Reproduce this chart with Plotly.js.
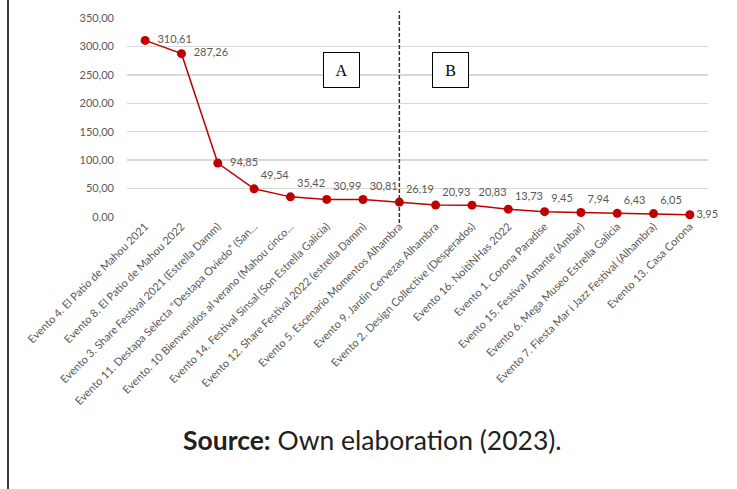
<!DOCTYPE html>
<html>
<head>
<meta charset="utf-8">
<script src="https://cdn.plot.ly/plotly-3.0.1.min.js"></script>
<style>
  html, body { margin: 0; padding: 0; background: #fff; }
  #wrap { position: relative; width: 737px; height: 489px; }
  #chart { width: 737px; height: 489px; }
  #frame { position: absolute; left: 7px; top: 0; width: 2px; height: 489px; background: #3a3a3a; }
</style>
</head>
<body>
<div id="wrap">
  <div id="chart"></div>
  <div id="frame"></div>
</div>
<script>
const categories = [
  "Evento 4. El Patio de Mahou 2021",
  "Evento 8. El Patio de Mahou 2022",
  "Evento 3. Share Festival 2021 (Estrella Damm)",
  "Evento 11. Destapa Selecta \u201cDestapa Oviedo\u201d (San\u2026",
  "Evento. 10 Bienvenidos al verano (Mahou cinco\u2026",
  "Evento 14. Festival Sinsal (Son Estrella Galicia)",
  "Evento 12. Share Festival 2022 (estrella Damm)",
  "Evento 5. Escenario Momentos Alhambra",
  "Evento 9. Jardin Cervezas Alhambra",
  "Evento 2. Design Collective (Desperados)",
  "Evento 16. NoitiNHas 2022",
  "Evento 1. Corona Paradise",
  "Evento 15. Festival Amante (Ambar)",
  "Evento 6. Mega Museo Estrella Galicia",
  "Evento 7. Fiesta Mar i Jazz Festival (Alhambra)",
  "Evento 13. Casa Corona"
];
const values = [310.61, 287.26, 94.85, 49.54, 35.42, 30.99, 30.81, 26.19, 20.93, 20.83, 13.73, 9.45, 7.94, 6.43, 6.05, 3.95];
const yTickValues = [0, 50, 100, 150, 200, 250, 300, 350];
const dividerCategory = "Evento 5. Escenario Momentos Alhambra";
const zoneLabels = ["A", "B"];
const sourceBold = "Source:";
const sourceText = " Own elaboration (2023).";

const fmt = v => v.toFixed(2).replace('.', ',');
const n = values.length;
const labelPos = values.map((v, i) => (i < 3 || i === n - 1) ? 'middle right' : 'top right');
const labelText = values.map((v, i) => (i < 3 ? '\u00a0\u00a0' : '') + fmt(v));

const trace = {
  type: 'scatter',
  mode: 'lines+markers+text',
  x: categories,
  y: values,
  line: { color: '#c00000', width: 1.5 },
  marker: { color: '#c00000', size: 9 },
  text: labelText,
  textposition: labelPos,
  textfont: { family: 'Lato, sans-serif', size: 11, color: '#595959' },
  cliponaxis: false,
  hoverinfo: 'x+y'
};

const divIdx = categories.indexOf(dividerCategory);

const layout = {
  width: 737,
  height: 489,
  margin: { l: 127, r: 29, t: 18, b: 272 },
  paper_bgcolor: '#ffffff',
  plot_bgcolor: '#ffffff',
  showlegend: false,
  font: { family: 'Lato, sans-serif', color: '#595959', size: 11 },
  xaxis: {
    type: 'category',
    range: [-0.5, categories.length - 0.5],
    tickangle: -45,
    showgrid: false,
    showline: false,
    ticks: '',
    zeroline: false,
    tickfont: { family: 'Lato, sans-serif', size: 11, color: '#595959' },
    automargin: false
  },
  yaxis: {
    range: [0, 350],
    tickvals: yTickValues,
    ticktext: yTickValues.map(fmt),
    showgrid: true,
    gridcolor: '#d9d9d9',
    gridwidth: 1.5,
    zeroline: false,
    showline: false,
    ticks: '',
    ticklabelstandoff: 12,
    tickfont: { family: 'Lato, sans-serif', size: 11, color: '#595959' },
    automargin: false
  },
  shapes: [
    {
      type: 'line', xref: 'x', yref: 'paper',
      x0: divIdx, x1: divIdx, y0: -0.03, y1: 1.035,
      line: { color: '#333333', width: 1.5, dash: '4px,2px' }
    }
  ],
  annotations: [
    {
      xref: 'x', yref: 'y', x: 5.41, y: 258.5, text: zoneLabels[0], showarrow: false,
      font: { family: 'Liberation Serif, serif', size: 16, color: '#000' },
      bordercolor: '#000', borderwidth: 1, width: 33, height: 32, bgcolor: '#fff'
    },
    {
      xref: 'x', yref: 'y', x: 8.42, y: 258.5, text: zoneLabels[1], showarrow: false,
      font: { family: 'Liberation Serif, serif', size: 16, color: '#000' },
      bordercolor: '#000', borderwidth: 1, width: 33, height: 32, bgcolor: '#fff'
    },
    {
      xref: 'paper', yref: 'paper', x: 0.4217, y: -1.12, xanchor: 'center', yanchor: 'middle',
      text: '<b>' + sourceBold + '</b>' + sourceText, showarrow: false,
      font: { family: 'Lato, sans-serif', size: 26.5, color: '#231f20' }
    }
  ]
};

Plotly.newPlot('chart', [trace], layout, { displayModeBar: false, staticPlot: true });
</script>
</body>
</html>
